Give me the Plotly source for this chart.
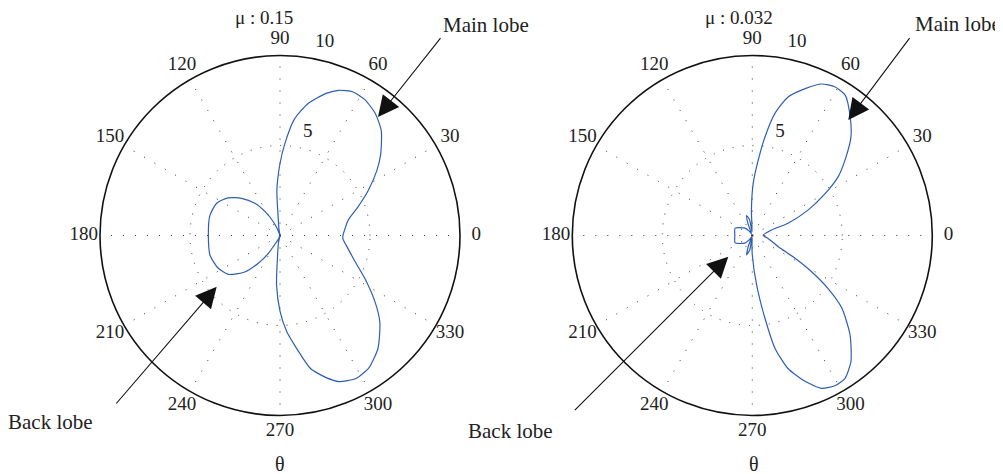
import plotly.graph_objects as go

# ---------------- data ----------------
theta_left = [0, 13, 20, 27, 34, 39, 46, 52, 58, 63, 68, 72, 78, 83, 87, 90, 94, 96,
              100, 106, 112, 116, 122, 128, 136, 144, 153, 164, 180, 196, 208, 217,
              226, 232, 237, 242, 248, 254, 258, 263, 266, 270, 274, 279, 283, 288,
              292, 298, 304, 311, 319, 325, 333, 341, 350, 357, 360]
r_left = [3.5, 3.9, 4.6, 5.5, 6.5, 7.2, 8.1, 8.6, 8.9, 8.95, 8.7, 8.3, 7.5, 6.5, 5.1,
          4.0, 2.5, 0.9, 0.3, 0.0, 0.4, 0.85, 1.56, 2.27, 2.97, 3.56, 3.95, 4.05, 3.98,
          4.04, 3.88, 3.59, 2.82, 1.96, 1.18, 0.39, 0.2, 0.0, 0.4, 1.1, 2.75, 4.2, 5.35,
          6.5, 7.6, 8.3, 8.75, 9.0, 8.85, 8.3, 7.35, 6.45, 5.3, 4.4, 3.8, 3.5, 3.5]

theta_right = [0, 16, 19, 24.5, 30, 34.5, 40, 45, 50.5, 56.5, 61, 65.5, 70, 75.5, 79.5,
               82.7, 85.5, 89, 92, 94, 100, 106, 110, 116, 125, 135, 157, 180, 203, 225,
               235, 244, 250, 254, 260, 265, 268, 270, 275, 278.7, 281.4, 285, 290,
               294.4, 299, 303, 308, 314.5, 321, 325, 328.6, 332, 336.7, 344, 352, 360]
r_right = [0.6, 1.1, 2.1, 3.4, 4.7, 5.8, 6.8, 7.75, 8.55, 9.35, 9.45, 9.25, 8.7, 7.95,
           6.9, 5.5, 4.2, 2.9, 1.4, 0.2, 0.9, 1.15, 0.7, 0.1, 0.3, 0.58, 1.04, 0.97,
           1.04, 0.6, 0.3, 0.1, 0.7, 1.12, 0.8, 0.1, 0.5, 1.08, 2.76, 4.65, 6.4, 7.65,
           8.63, 9.32, 9.53, 9.46, 8.9, 7.75, 6.4, 5.14, 3.86, 2.69, 1.57, 1.1, 0.8, 0.6]

angle_ticks = [0, 30, 60, 90, 120, 150, 180, 210, 240, 270, 300, 330]
angle_labels = ["0", "30", "60", "90", "120", "150", "180", "210", "240", "270", "300", "330"]
radial_ticks = [5, 10]
radial_labels = ["5", "10"]
radial_label_theta = [75, 77]
radial_label_r = [5.96, 11.04]
angle_label_r = 10.9
titles = ["μ : 0.15", "μ : 0.032"]

# ---------------- styling / geometry ----------------
FONT = "Liberation Serif"
BLUE = "#2c5fb3"
OFF = 8                      # page body margin of the browser
W, H = 1003 - OFF, 474 - OFF
RPX = 180                    # radius of the outer circle in pixels
LBL_RPX = 200                # radius of the invisible label overlay
CENTERS = [(280, 235.5), (752.3, 235.5)]


def px(sx, sy):
    return (sx - OFF) / W, 1 - (sy - OFF) / H


def dom(cx, cy, rad):
    x0, y1 = px(cx - rad, cy - rad)
    x1, y0 = px(cx + rad, cy + rad)
    return dict(x=[x0, x1], y=[y0, y1])


fig = go.Figure()

names = [("polar", "polar3", theta_left, r_left), ("polar2", "polar4", theta_right, r_right)]
for sub, lsub, th, rr in names:
    fig.add_trace(go.Scatterpolar(theta=th, r=rr, mode="lines",
                                  line=dict(color=BLUE, width=1.2, shape="spline", smoothing=0.6),
                                  subplot=sub, showlegend=False, hoverinfo="skip"))
    fig.add_trace(go.Scatterpolar(theta=angle_ticks, r=[angle_label_r] * len(angle_ticks),
                                  mode="text", text=angle_labels,
                                  textfont=dict(family=FONT, size=19, color="#222"),
                                  cliponaxis=False, subplot=lsub, showlegend=False,
                                  hoverinfo="skip"))
    fig.add_trace(go.Scatterpolar(theta=radial_label_theta, r=radial_label_r,
                                  mode="text", text=radial_labels,
                                  textfont=dict(family=FONT, size=19, color="#222"),
                                  cliponaxis=False, subplot=lsub, showlegend=False,
                                  hoverinfo="skip"))

polar_common = dict(
    bgcolor="white",
    radialaxis=dict(range=[0, 10], tickvals=radial_ticks, showticklabels=False,
                    showline=False, ticks="", gridcolor="#333", griddash="1px,9px",
                    gridwidth=1),
    angularaxis=dict(tickvals=angle_ticks, showticklabels=False, ticks="",
                     direction="counterclockwise", rotation=0,
                     showline=True, linecolor="#111", linewidth=1.6,
                     gridcolor="#333", griddash="1px,11px", gridwidth=1),
)
overlay = dict(
    bgcolor="rgba(0,0,0,0)",
    radialaxis=dict(range=[0, 10 * LBL_RPX / RPX], visible=False, showgrid=False),
    angularaxis=dict(visible=False, showgrid=False, showline=False,
                     direction="counterclockwise", rotation=0),
)

fig.update_layout(
    width=W, height=H,
    margin=dict(l=0, r=0, t=0, b=0),
    paper_bgcolor="white",
    font=dict(family=FONT, size=19, color="#222"),
    polar=dict(domain=dom(*CENTERS[0], RPX), **polar_common),
    polar2=dict(domain=dom(*CENTERS[1], RPX), **polar_common),
    polar3=dict(domain=dom(*CENTERS[0], LBL_RPX), **overlay),
    polar4=dict(domain=dom(*CENTERS[1], LBL_RPX), **overlay),
)

ann = []


def txt(sx, sy, s, size=21):
    x, y = px(sx, sy)
    ann.append(dict(x=x, y=y, xref="paper", yref="paper", text=s,
                    showarrow=False, xanchor="center", yanchor="middle",
                    font=dict(family=FONT, size=size, color="#222")))


def arrow(tip, tail):
    x, y = px(*tip)
    ann.append(dict(x=x, y=y, xref="paper", yref="paper",
                    ax=tail[0] - tip[0], ay=tail[1] - tip[1], axref="pixel", ayref="pixel",
                    text="", showarrow=True, arrowhead=2, arrowsize=3.8,
                    arrowwidth=1.1, arrowcolor="#111", standoff=0))


txt(264, 18, titles[0], 19)
txt(739, 18, titles[1], 19)
txt(280, 464, "θ", 20)
txt(754, 464, "θ", 20)
txt(486, 25, "Main lobe")
txt(958, 24, "Main lobe")
txt(50, 422, "Back lobe")
txt(510, 431, "Back lobe")
arrow((378, 117), (441.7, 36.7))
arrow((216.7, 286.7), (115, 405))
arrow((848.3, 120), (910.7, 36.7))
arrow((728.3, 256.7), (573.3, 411.7))

fig.update_layout(annotations=ann)
fig.write_html("out.html")
